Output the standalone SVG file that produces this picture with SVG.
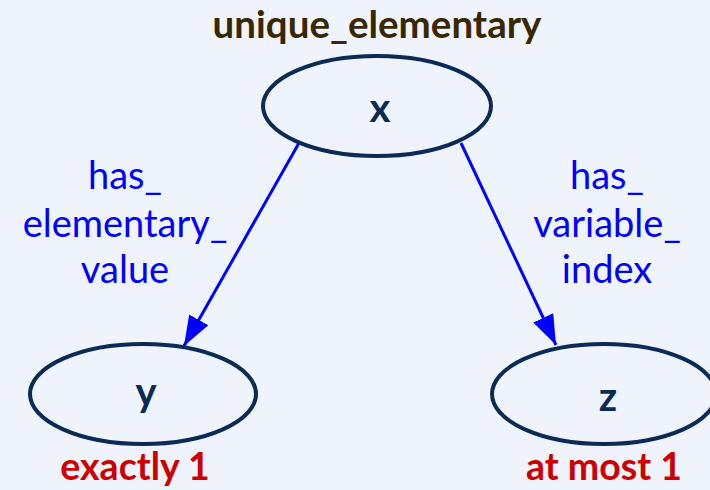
<svg xmlns="http://www.w3.org/2000/svg" width="710" height="490" viewBox="0 0 710 490">
<style>
.node{fill:none;stroke:#0b2a55;stroke-width:4}
.nl{font-family:Lato,"Liberation Sans",sans-serif;font-weight:bold;font-size:40px;fill:#0b2a55;text-anchor:middle}
.el{font-family:Lato,"Liberation Sans",sans-serif;font-size:38px;fill:#0000ff;text-anchor:middle}
.card{font-family:Lato,"Liberation Sans",sans-serif;font-weight:bold;font-size:37.5px;fill:#cc0000;text-anchor:middle}
.title{font-family:Lato,"Liberation Sans",sans-serif;font-weight:bold;font-size:38.5px;fill:#382800;text-anchor:middle}
.edge{stroke:#0000ff;stroke-width:3;fill:none}
</style>
<defs>
<marker id="arr" viewBox="0 0 30 22" refX="30" refY="11" markerWidth="30" markerHeight="22" markerUnits="userSpaceOnUse" orient="auto">
<path d="M0,0 L30,11 L0,22 Z" fill="#0000ff"/>
</marker>
</defs>
<rect width="710" height="490" fill="#eff4fc"/>
<text class="title" x="377" y="38">unique_elementary</text>
<g id="connectors">
<line class="edge" x1="299" y1="143" x2="184" y2="346" marker-end="url(#arr)"/>
<line class="edge" x1="461" y1="143" x2="556" y2="345" marker-end="url(#arr)"/>
<g class="el">
<text x="125" y="189">has_</text>
<text x="125" y="237">elementary_</text>
<text x="125" y="283">value</text>
<text x="607" y="189">has_</text>
<text x="607" y="237">variable_</text>
<text x="607" y="283">index</text>
</g>
</g>
<g id="node-x">
<ellipse class="node" cx="377" cy="106" rx="114" ry="50"/>
<text class="nl" x="380" y="122">x</text>
</g>
<g id="node-y">
<ellipse class="node" cx="143" cy="394" rx="113" ry="50"/>
<text class="nl" x="146" y="406">y</text>
<text class="card" x="135" y="480">exactly 1</text>
</g>
<g id="node-z">
<ellipse class="node" cx="604" cy="394" rx="112" ry="50"/>
<text class="nl" x="608" y="411">z</text>
<text class="card" x="604" y="480">at most 1</text>
</g>
</svg>
